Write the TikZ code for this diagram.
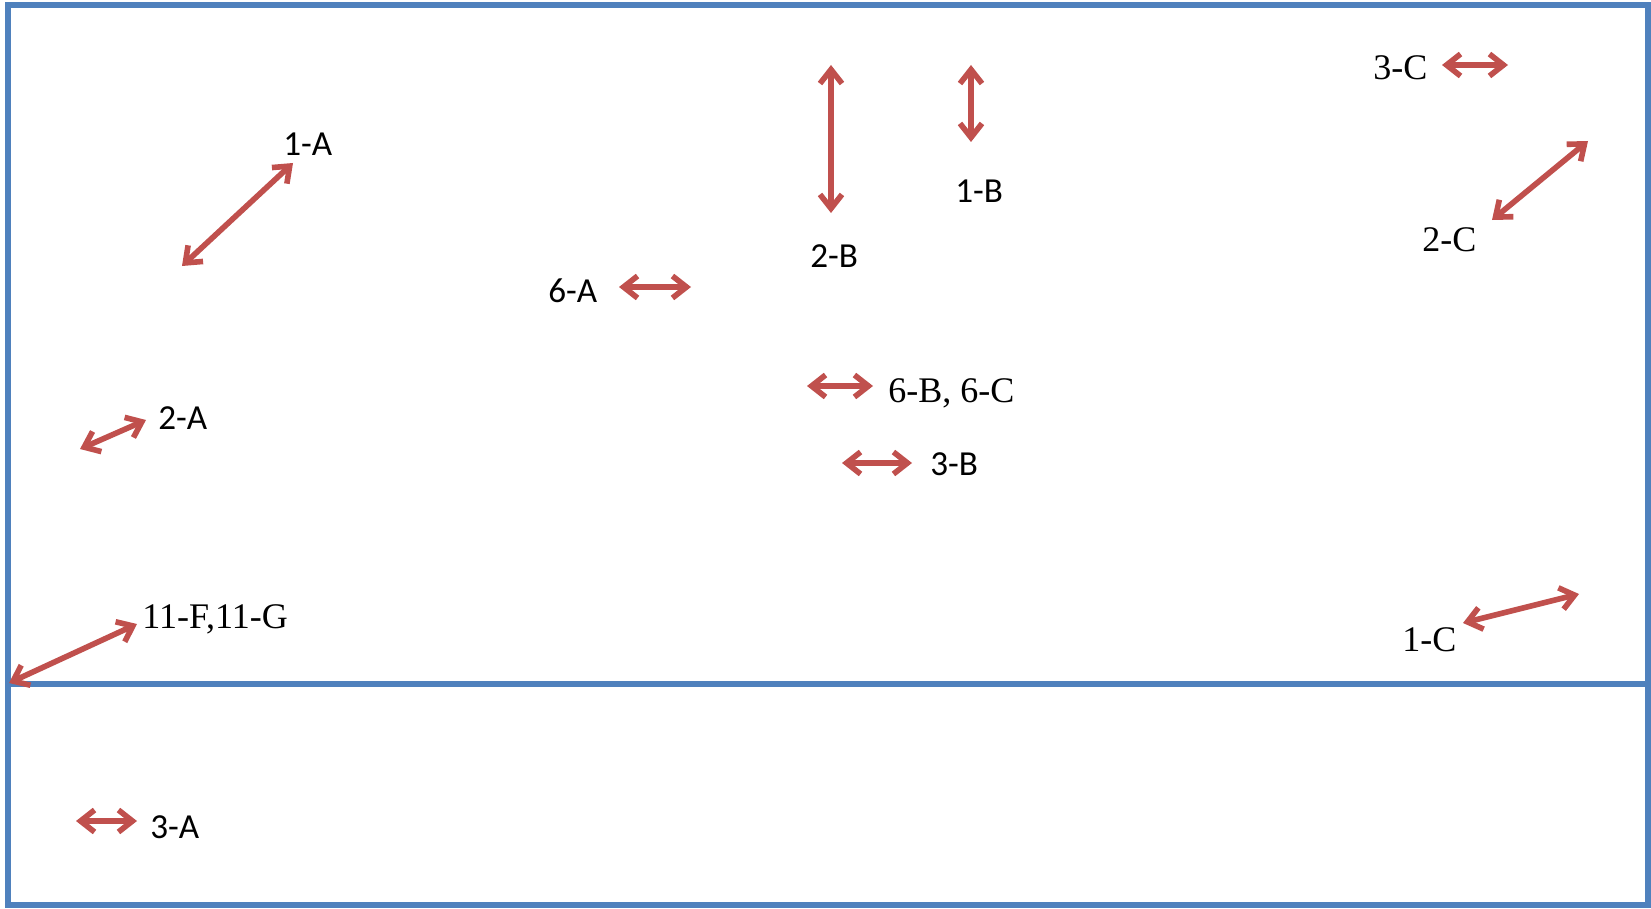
\documentclass[tikz,border=0pt]{standalone}
\usepackage{fontspec}
\setmainfont{Liberation Serif}
\newfontfamily\calibri{Carlito}
\usetikzlibrary{arrows.meta}
\definecolor{frameblue}{RGB}{79,129,189}
\definecolor{arrowred}{RGB}{192,80,77}
\tikzset{
  twoway/.style={arrowred, line width=3.2pt, line cap=round, line join=round,
    {Straight Barb[length=0.28cm,width=0.44cm]}-{Straight Barb[length=0.28cm,width=0.44cm]}},
  sanslabel/.style={font=\calibri\fontsize{20}{24}\selectfont, inner sep=0pt, anchor=base west},
  seriflabel/.style={font=\fontsize{20.5}{24}\selectfont, inner sep=0pt, anchor=base west},
}

\begin{document}
\begin{tikzpicture}[x=0.02cm, y=-0.02cm]
\useasboundingbox (0,0) rectangle (1651,909);
% frame and divider
\draw[frameblue, line width=3pt](8,5) rectangle (1648,905);
\draw[frameblue, line width=3pt](8,684)--(1648,684);
% double arrows
\foreach \ax/\ay/\bx/\by in {182/266/293/163, 80/449/146/420, 9/683/137/624,
    831/213/831/65, 971/142/971/65, 619/287/691/287, 807/386/873/386,
    842/463/912/463, 1442/65/1508/65, 1492/220/1588/141, 1463/623/1579/594,
    76/821/137/821}{
	\draw[twoway](\ax,\ay)--(\bx,\by);
}
% labels
\node[sanslabel] (lab1A) at (283,155) {1-A};
\node[sanslabel] (lab2A) at (158,429) {2-A};
\node[seriflabel] (lab11FG) at (142,628) {11-F,11-G};
\node[sanslabel] (lab2B) at (810,267) {2-B};
\node[sanslabel] (lab1B) at (955,202) {1-B};
\node[sanslabel] (lab6A) at (548,302) {6-A};
\node[seriflabel] (lab6BC) at (888,402) {6-B, 6-C};
\node[sanslabel] (lab3B) at (930,475) {3-B};
\node[seriflabel] (lab3C) at (1373,80) {3-C};
\node[seriflabel] (lab2C) at (1422,252) {2-C};
\node[seriflabel] (lab1C) at (1402,651) {1-C};
\node[sanslabel] (lab3A) at (150,838) {3-A};
\end{tikzpicture}
\end{document}
